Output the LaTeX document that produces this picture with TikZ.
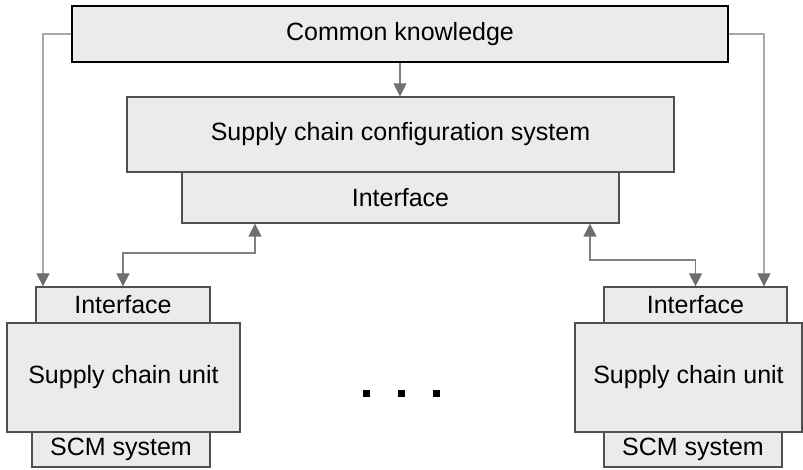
\documentclass[tikz,border=0pt]{standalone}
\usepackage{fontspec}
\setmainfont{Liberation Sans}
\usetikzlibrary{arrows.meta}
\definecolor{boxfill}{HTML}{EBEBEB}
\definecolor{boxline}{HTML}{505050}
\definecolor{tipgray}{HTML}{6E6E6E}
\definecolor{linkgray}{HTML}{808080}
\definecolor{sidegray}{HTML}{A8A8A8}
\begin{document}
\begin{tikzpicture}[x=1pt,y=-1pt,
  block/.style={draw=boxline, line width=1.3pt, fill=boxfill, inner sep=0pt,
    font=\fontsize{25}{30}\selectfont, text=black},
  tip/.style={-{Triangle[width=13pt,length=13pt,color=tipgray]}},
  bitip/.style={{Triangle[width=13pt,length=13pt,color=tipgray]}-{Triangle[width=13pt,length=13pt,color=tipgray]}},
  link/.style={draw=linkgray, line width=1.3pt},
  sidelink/.style={draw=sidegray, line width=1.3pt},
  dot/.style={fill=black, minimum size=7pt, inner sep=0pt}]
\useasboundingbox (0,0) rectangle (803,470);

% central system
\node[block, minimum width=656pt, minimum height=56pt, draw=black, line width=1.5pt] (ck) at (400,34) {Common knowledge};
\node[block, minimum width=547pt, minimum height=75pt] (cfg) at (400.5,134.5) {Supply chain configuration system};
\node[block, minimum width=437pt, minimum height=51pt] (if0) at (400.5,197.5) {Interface};

% left unit
\node[block, minimum width=174pt, minimum height=36pt] (ifL) at (123,305) {Interface};
\node[block, minimum width=178pt, minimum height=35pt] (scmL) at (121,449.5) {SCM system};
\node[block, minimum width=233pt, minimum height=109pt] (scuL) at (123.5,377.5) {Supply chain unit};

% right unit
\node[block, minimum width=183pt, minimum height=36pt] (ifR) at (695.5,305) {Interface};
\node[block, minimum width=178pt, minimum height=35pt] (scmR) at (693,449.5) {SCM system};
\node[block, minimum width=227pt, minimum height=109pt] (scuR) at (688.5,377.5) {Supply chain unit};

% ellipsis between the units
\node[dot] (d1) at (366,393.5) {};
\node[dot] (d2) at (401.5,393.5) {};
\node[dot] (d3) at (436.5,393.5) {};

% routing points
\coordinate (lx) at (43,0);
\coordinate (rx) at (764,0);
\coordinate (la) at (255,253);
\coordinate (ra) at (590,260);

% connectors
\draw[sidelink, tip] (ck.west) -| (lx |- ifL.north);
\draw[sidelink, tip] (ck.east) -| (rx |- ifR.north);
\draw[link, tip] (ck.south) -- (ck.south |- cfg.north);
\draw[link, bitip] (ifL.north) |- (la) -- (la |- if0.south);
\draw[link, bitip] (ra |- if0.south) -- (ra) -| (ifR.north);
\end{tikzpicture}
\end{document}
